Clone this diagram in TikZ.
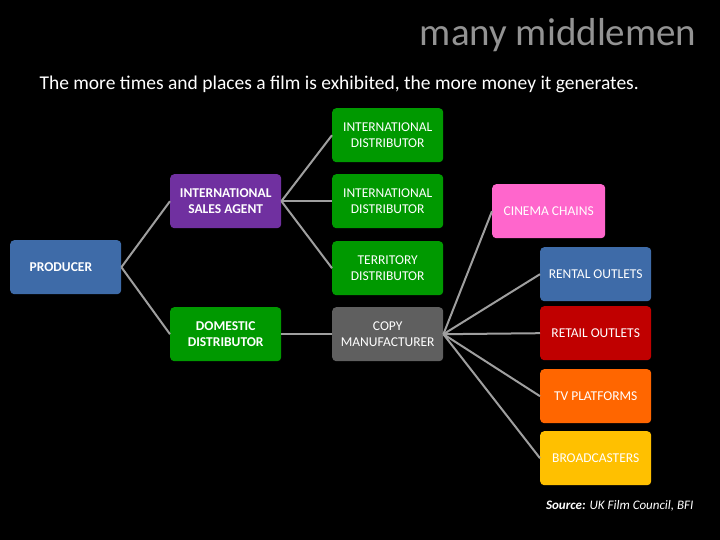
\documentclass[tikz,border=0pt]{standalone}
\usepackage{fontspec}
\setmainfont{Carlito}
\begin{document}
\begin{tikzpicture}[x=1pt,y=-1pt,
  box/.style={rounded corners=4pt,minimum width=111pt,minimum height=54pt,align=center,text=white,font=\fontsize{13.5}{16}\selectfont,anchor=north west,inner sep=1pt},
  bbox/.style={box,font=\fontsize{13.5}{16}\selectfont\bfseries},
  conn/.style={draw=gray!75,line width=2pt}]
\fill[black] (0,0) rectangle (720,540);
\useasboundingbox (0,0) rectangle (720,540);
\definecolor{cblue}{HTML}{3E6BA8}
\definecolor{cpurple}{HTML}{7030A0}
\definecolor{cgreen}{HTML}{009900}
\definecolor{cgray}{HTML}{5F5F5F}
\definecolor{cpink}{HTML}{FF66CC}
\definecolor{cred}{HTML}{C00000}
\definecolor{corange}{HTML}{FF6600}
\definecolor{cgold}{HTML}{FFC000}
\node[anchor=east,text=gray!85,font=\fontsize{39}{43}\selectfont] (title) at (700,35) {many middlemen};
\node[anchor=west,text=white,font=\fontsize{19.5}{23}\selectfont] (sub) at (36,84) {The more times and places a film is exhibited, the more money it generates.};
\node[bbox,fill=cblue,align=left,text width=100pt] (prod) at (10,240) {\hspace*{14pt}PRODUCER};
\node[bbox,fill=cpurple] (isa) at (170,174) {INTERNATIONAL\\SALES AGENT};
\node[bbox,fill=cgreen] (dom) at (170,307) {DOMESTIC\\DISTRIBUTOR};
\node[box,fill=cgreen] (id1) at (332,108) {INTERNATIONAL\\DISTRIBUTOR};
\node[box,fill=cgreen] (id2) at (332,174) {INTERNATIONAL\\DISTRIBUTOR};
\node[box,fill=cgreen] (td) at (332,241) {TERRITORY\\DISTRIBUTOR};
\node[box,fill=cgray] (copy) at (332,307) {COPY\\MANUFACTURER};
\node[box,fill=cpink,minimum width=113pt] (cin) at (492,184) {CINEMA CHAINS};
\node[box,fill=cblue] (rent) at (540,247) {RENTAL OUTLETS};
\node[box,fill=cred] (ret) at (540,306) {RETAIL OUTLETS};
\node[box,fill=corange] (tv) at (540,369) {TV PLATFORMS};
\node[box,fill=cgold] (brd) at (540,431) {BROADCASTERS};
\node[anchor=east,text=white,font=\fontsize{13}{15}\selectfont\itshape] (src) at (697,506) {\textbf{Source:} UK Film Council, BFI};
\draw[conn] (prod.east) -- (isa.west);
\draw[conn] (prod.east) -- (dom.west);
\foreach \t in {id1,id2,td} \draw[conn] (isa.east) -- (\t.west);
\draw[conn] (dom.east) -- (copy.west);
\foreach \t in {cin,rent,ret,tv,brd} \draw[conn] (copy.east) -- (\t.west);
\end{tikzpicture}
\end{document}
